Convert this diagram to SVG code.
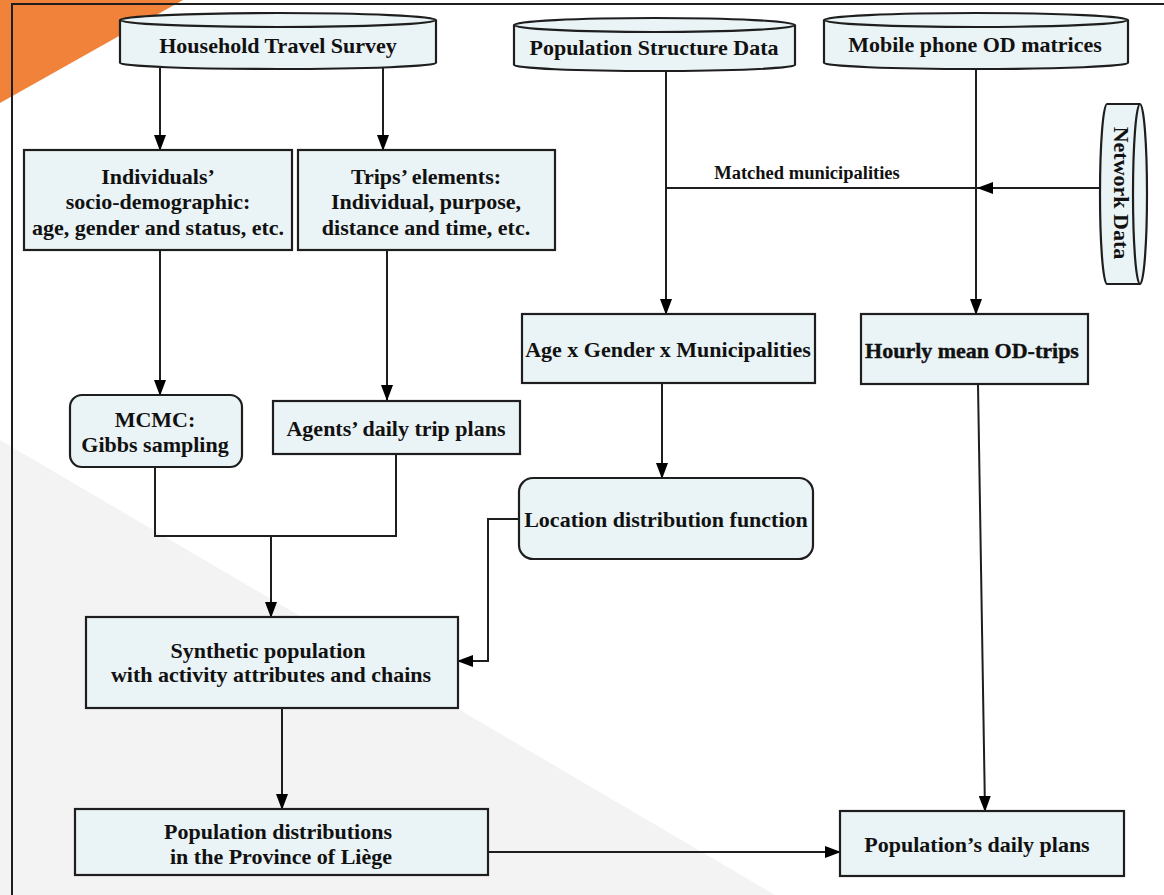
<svg xmlns="http://www.w3.org/2000/svg" width="1164" height="895" viewBox="0 0 1164 895">
<defs>
<marker id="ah" markerWidth="16" markerHeight="12" refX="15" refY="6" orient="auto" markerUnits="userSpaceOnUse">
<path d="M0,0 L16,6 L0,12 Z" fill="#000"/>
</marker>
<style>
.box{fill:#EAF3F5;stroke:#1e1e1e;stroke-width:2.2}
.t{font-family:"Liberation Serif","Times New Roman",serif;font-weight:bold;font-size:22px;fill:#111;text-anchor:middle;dominant-baseline:central}
.c{fill:none;stroke:#1e1e1e;stroke-width:2}
.ca{fill:none;stroke:#1e1e1e;stroke-width:2;marker-end:url(#ah)}
</style>
</defs>
<rect x="0" y="0" width="1164" height="895" fill="#fff"/>
<polygon points="0,440 775,895 0,895" fill="#F3F3F3"/>
<polygon points="0,0 183,0 0,103" fill="#F0823A"/>
<path d="M12,895 L12,4 L1164,4" fill="none" stroke="#1e1e1e" stroke-width="2"/>

<g id="connectors">
<path class="ca" d="M160,68 L160,150"/>
<path class="ca" d="M383,68 L383,150"/>
<path class="ca" d="M160,250 L160,395"/>
<path class="ca" d="M387,250 L387,400"/>
<path class="c" d="M155,467 L155,536 L396,536 L396,454"/>
<path class="ca" d="M271,536 L271,617"/>
<path class="ca" d="M666,70 L666,314"/>
<path class="c" d="M666,188 L1100,188"/>
<path class="ca" d="M1100,188 L978,188"/>
<path class="ca" d="M976,68 L976,314"/>
<path class="ca" d="M662,383 L662,478"/>
<path class="ca" d="M519,519 L488,519 L488,661 L458,661"/>
<path class="ca" d="M282,708 L282,809"/>
<path class="ca" d="M978,384 L985,811"/>
<path class="ca" d="M488,852 L840,852"/>
<text class="t" x="807" y="173" style="font-size:18.5px">Matched municipalities</text>
</g>

<g id="household-travel-survey">
<path class="box" d="M120,20 L120,63 A158,6 0 0 0 436,63 L436,20"/>
<ellipse class="box" cx="278" cy="20" rx="158" ry="7"/>
<text class="t" x="278" y="45">Household Travel Survey</text>
</g>

<g id="population-structure-data">
<path class="box" d="M514,25 L514,65 A140,6 0 0 0 795,65 L795,25"/>
<ellipse class="box" cx="654.5" cy="25" rx="140.5" ry="7"/>
<text class="t" x="654" y="47">Population Structure Data</text>
</g>

<g id="mobile-phone-od">
<path class="box" d="M824,20 L824,63 A152,6 0 0 0 1128,63 L1128,20"/>
<ellipse class="box" cx="976" cy="20" rx="152" ry="7"/>
<text class="t" x="975" y="44">Mobile phone OD matrices</text>
</g>

<g id="network-data">
<path class="box" d="M1140,104 L1107,104 A7,90 0 0 0 1107,284 L1140,284"/>
<ellipse class="box" cx="1140" cy="194" rx="7" ry="90"/>
<text class="t" x="1121" y="193" transform="rotate(90 1121 193)">Network Data</text>
</g>

<g id="individuals">
<rect class="box" x="24" y="150" width="268" height="100"/>
<text class="t" x="158" y="176">Individuals’</text>
<text class="t" x="158" y="201">socio-demographic:</text>
<text class="t" x="158" y="227">age, gender and status, etc.</text>
</g>

<g id="trips-elements">
<rect class="box" x="298" y="150" width="257" height="100"/>
<text class="t" x="426" y="176">Trips’ elements:</text>
<text class="t" x="426" y="201">Individual, purpose,</text>
<text class="t" x="426" y="227">distance and time, etc.</text>
</g>

<g id="mcmc">
<rect class="box" x="70" y="395" width="172" height="72" rx="12"/>
<text class="t" x="155" y="419">MCMC:</text>
<text class="t" x="155" y="444">Gibbs sampling</text>
</g>

<g id="agents-plans">
<rect class="box" x="273" y="401" width="247" height="53"/>
<text class="t" x="396" y="428">Agents’ daily trip plans</text>
</g>

<g id="age-gender">
<rect class="box" x="522" y="314" width="293" height="69"/>
<text class="t" x="668" y="349">Age x Gender x Municipalities</text>
</g>

<g id="hourly-od">
<rect class="box" x="861" y="314" width="227" height="70"/>
<text class="t" x="972" y="350" style="stroke:#111;stroke-width:0.4">Hourly mean OD-trips</text>
</g>

<g id="location-distribution">
<rect class="box" x="519" y="478" width="294" height="81" rx="14"/>
<text class="t" x="666" y="519">Location distribution function</text>
</g>

<g id="synthetic-population">
<rect class="box" x="86" y="617" width="372" height="91"/>
<text class="t" x="268" y="650">Synthetic population</text>
<text class="t" x="271" y="674">with activity attributes and chains</text>
</g>

<g id="population-distributions">
<rect class="box" x="75" y="809" width="413" height="66"/>
<text class="t" x="278" y="831">Population distributions</text>
<text class="t" x="281" y="856">in the Province of Liège</text>
</g>

<g id="daily-plans">
<rect class="box" x="840" y="811" width="284" height="65"/>
<text class="t" x="977" y="844">Population’s daily plans</text>
</g>
</svg>
